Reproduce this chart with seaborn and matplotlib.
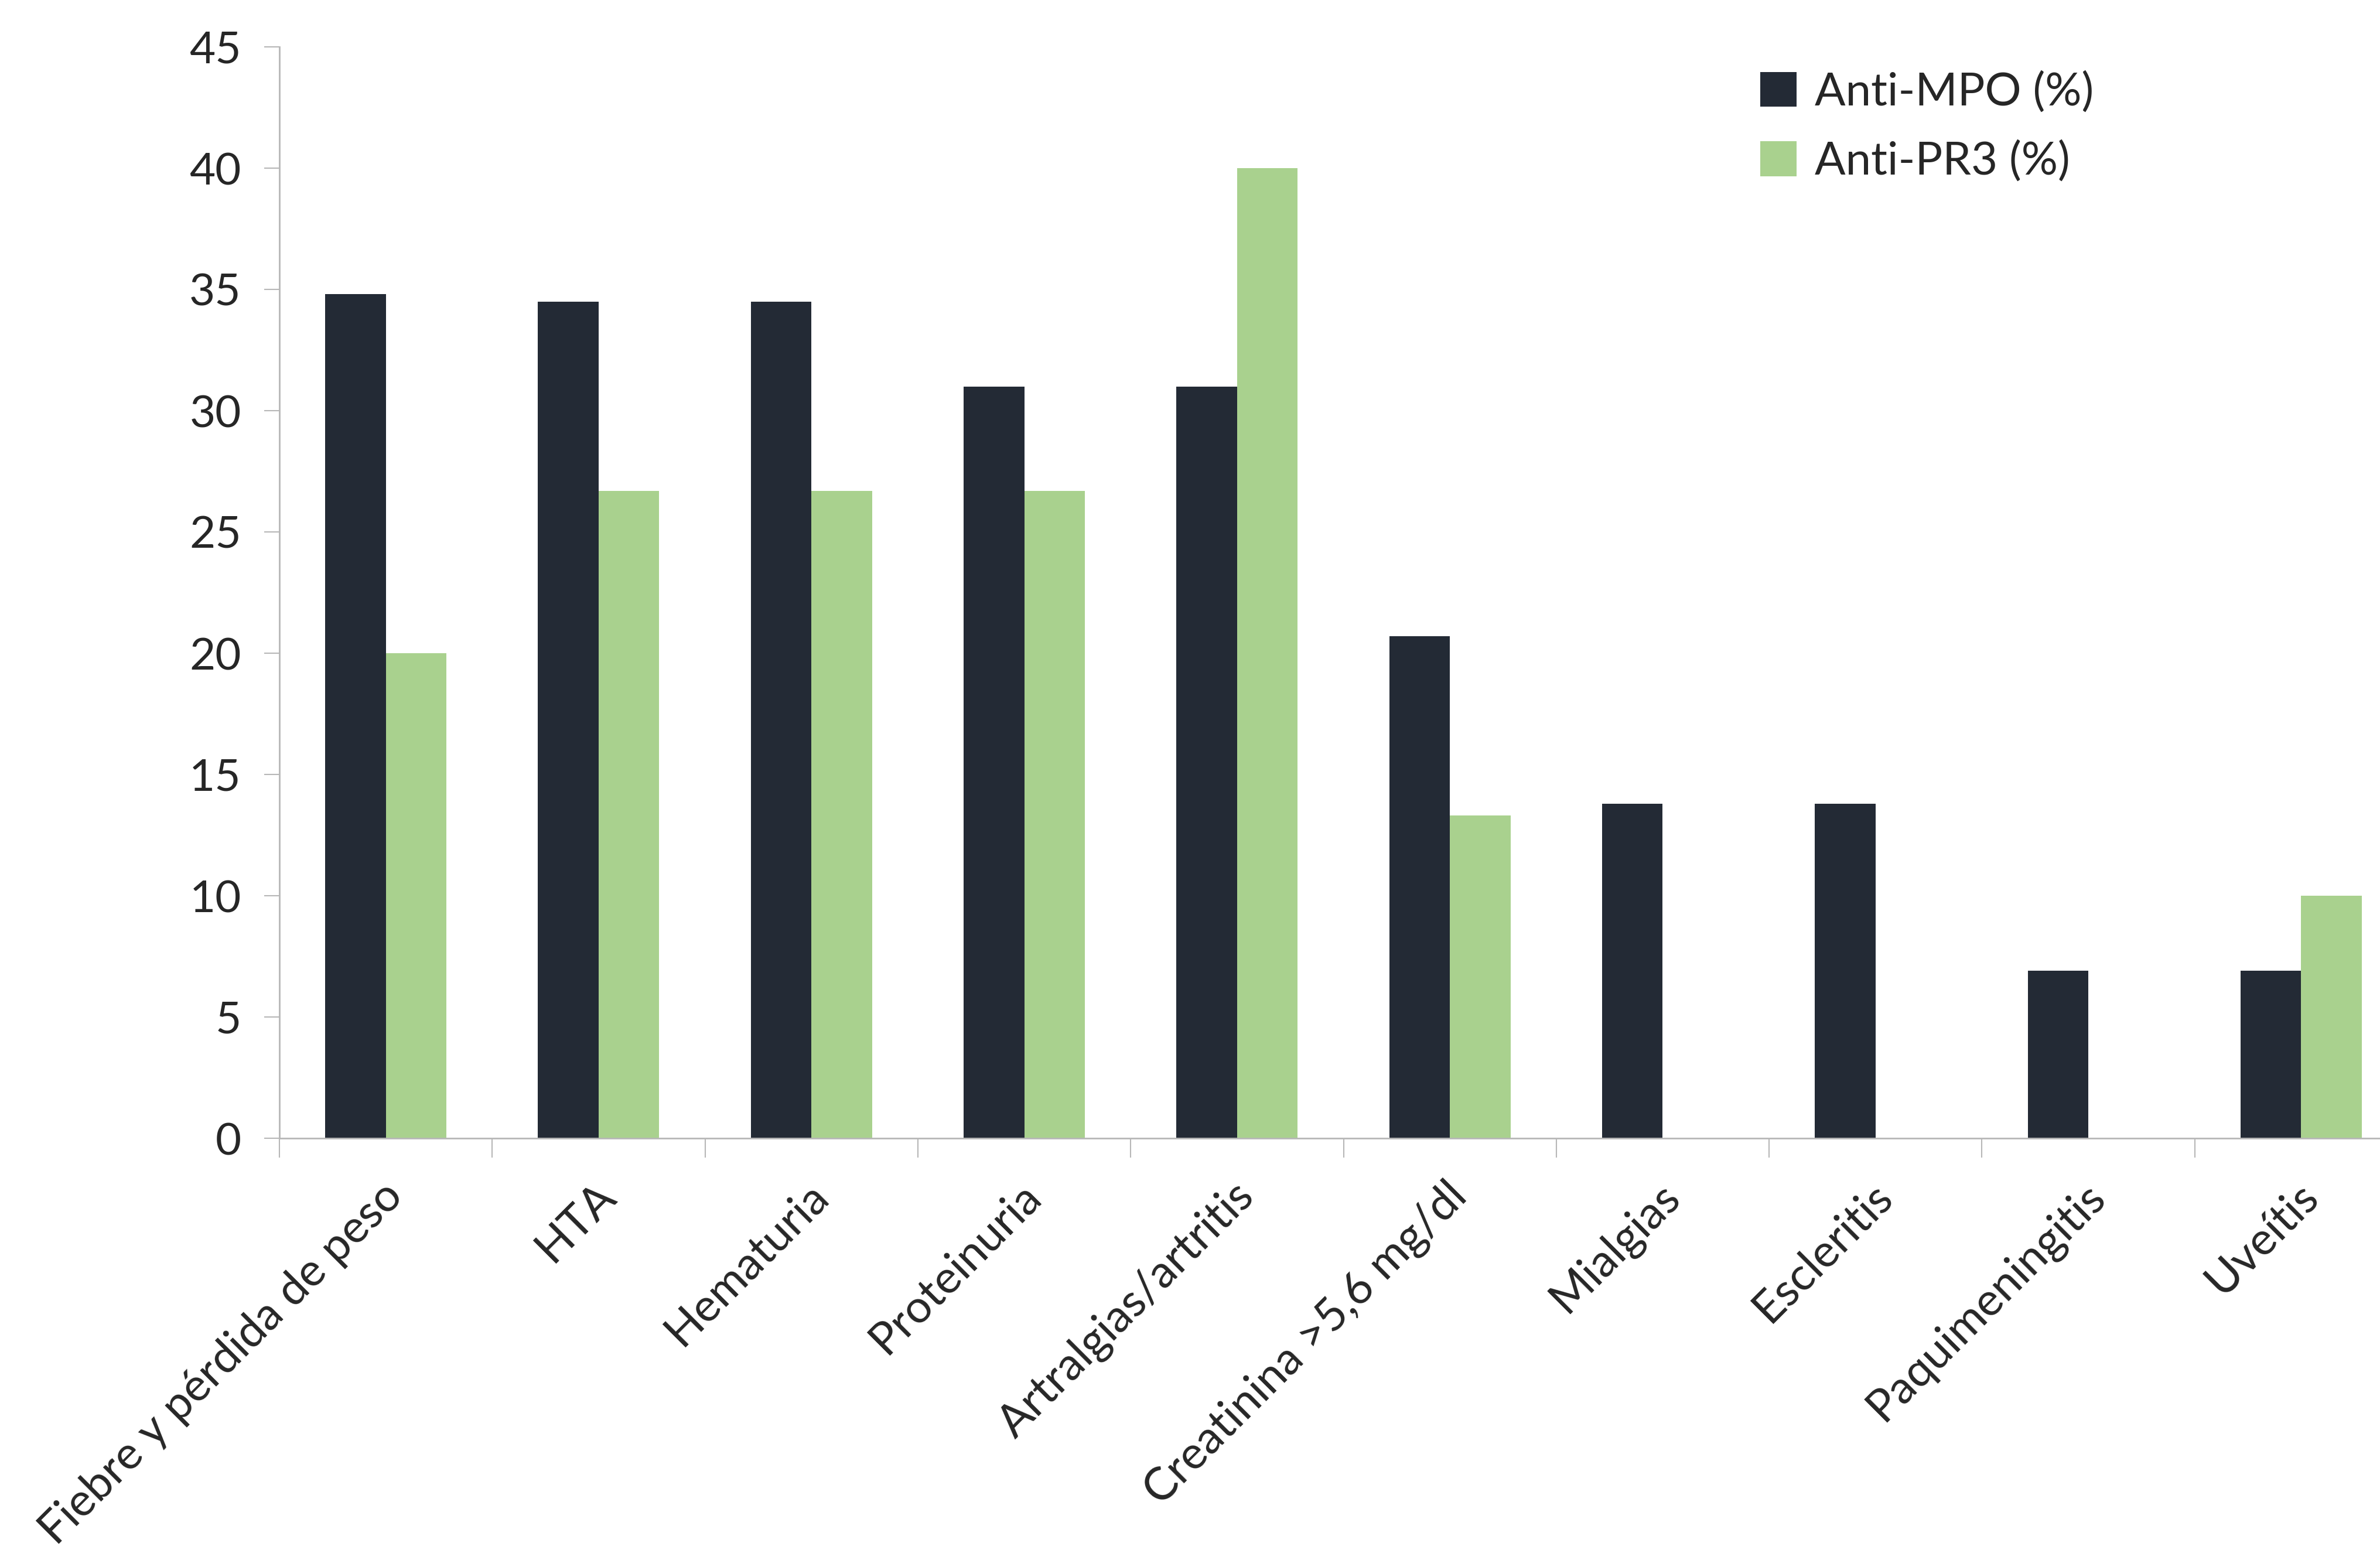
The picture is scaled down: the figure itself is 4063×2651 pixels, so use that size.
import numpy as np
import pandas as pd
import matplotlib
matplotlib.use("Agg")
import matplotlib.pyplot as plt
import seaborn as sns
from matplotlib.ticker import FixedLocator
from matplotlib.transforms import ScaledTranslation

categories = ["Fiebre y pérdida de peso", "HTA", "Hematuria", "Proteinuria",
              "Artralgias/artritis", "Creatinina >5,6 mg/dl", "Mialgias",
              "Escleritis", "Paquimeningitis", "Uveítis"]
anti_mpo = [34.8, 34.5, 34.5, 31.0, 31.0, 20.7, 13.8, 13.8, 6.9, 6.9]
anti_pr3 = [20.0, 26.7, 26.7, 26.7, 40.0, 13.3, 0.0, 0.0, 0.0, 10.0]
series_names = ["Anti-MPO (%)", "Anti-PR3 (%)"]
colors = ["#232A35", "#A9D18E"]
yticks = [0, 5, 10, 15, 20, 25, 30, 35, 40, 45]

df = pd.DataFrame({
    "cat": categories * 2,
    "serie": [series_names[0]] * len(categories) + [series_names[1]] * len(categories),
    "val": anti_mpo + anti_pr3,
})

sns.set_theme(style="white")
plt.rcParams['font.family'] = ['Lato', 'DejaVu Sans']

W, H = 4063, 2651
fig = plt.figure(figsize=(W / 100, H / 100), dpi=100)
ax = fig.add_axes([477 / W, 1 - 1943 / H, 3633 / W, (1943 - 80) / H])

sns.barplot(data=df, x="cat", y="val", hue="serie", order=categories,
            hue_order=series_names, palette=colors, width=0.57,
            saturation=1, ax=ax, legend=True, linewidth=0)

ax.set_xlim(-0.5, len(categories) - 0.5)
ax.set_ylim(0, 45)
ax.set_yticks(yticks)
ax.set_xlabel("")
ax.set_ylabel("")

gray = "#B7B7B7"
for s in ["top", "right"]:
    ax.spines[s].set_visible(False)
for s in ["left", "bottom"]:
    ax.spines[s].set_color(gray)
    ax.spines[s].set_linewidth(2)

ax.tick_params(axis="y", direction="out", length=19, width=1.5, color=gray,
               labelsize=55, pad=28, left=True)
ax.set_xticks(range(len(categories)))
ax.set_xticklabels(categories, rotation=45, ha="right", rotation_mode="anchor",
                   fontsize=56)
ax.tick_params(axis="x", which="major", length=0, pad=45)
offset = ScaledTranslation(-8 / 100, 0, fig.dpi_scale_trans)
for lbl in ax.get_xticklabels():
    lbl.set_transform(lbl.get_transform() + offset)
ax.xaxis.set_minor_locator(FixedLocator(np.arange(-0.5, len(categories), 1.0)))
ax.tick_params(axis="x", which="minor", direction="out", length=24, width=1.5,
               color=gray, bottom=True)

handles, labels = ax.get_legend_handles_labels()
ax.legend(handles, labels, loc="upper left", bbox_to_anchor=(2935 / W, 1 - 52 / H),
          bbox_transform=fig.transFigure, frameon=False, fontsize=56,
          handlelength=0.8, handleheight=0.8, handletextpad=0.4, labelspacing=0.6)

fig.savefig("out.png", dpi=100)
